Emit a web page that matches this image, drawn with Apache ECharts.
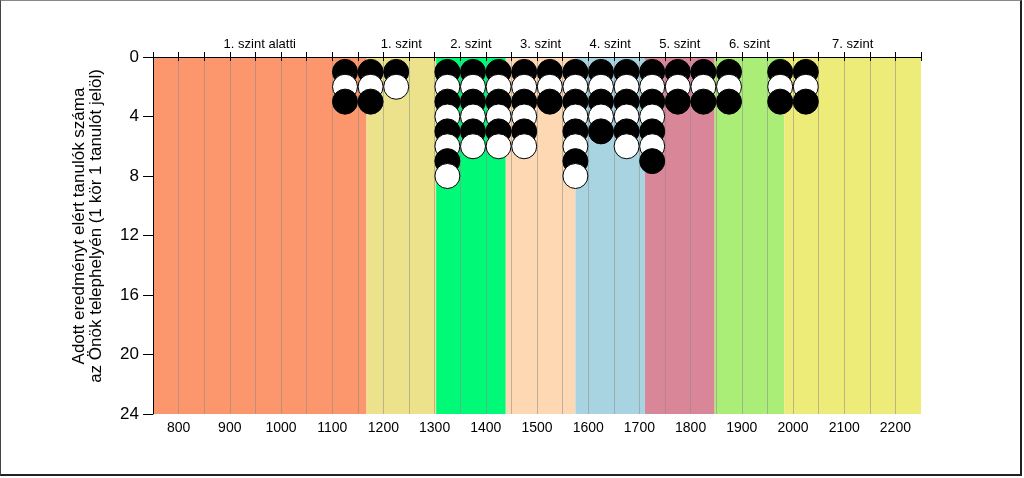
<!DOCTYPE html>
<html>
<head>
<meta charset="utf-8">
<script src="https://cdn.jsdelivr.net/npm/echarts@6/dist/echarts.min.js"></script>
<style>
  html, body { margin: 0; padding: 0; background: #fff; }
  #chart { position: absolute; left: 0; top: 0; width: 1024px; height: 478px; }
  #frame { position: absolute; left: 0; top: 0; width: 1019px; height: 473px;
           border-left: 1px solid #444; border-top: 1px solid #888;
           border-right: 2px solid #222; border-bottom: 2px solid #222; pointer-events: none; }
</style>
</head>
<body>
<div id="chart"></div>
<div id="frame"></div>
<script>
// ---- data ----
const scoreMin = 750;
const scoreMax = 2250;
const scoreStep = 50;
const countMax = 24;
const countStep = 4;

const levelBounds = [750, 1167, 1303, 1439, 1575, 1711, 1847, 1983, 2250];
const levelNames = ['1. szint alatti', '1. szint', '2. szint', '3. szint', '4. szint', '5. szint', '6. szint', '7. szint'];
const levelColors = ['#FC966C', '#ECE28C', '#00FA78', '#FED8B2', '#A8D4E2', '#D88698', '#AAEE78', '#EEEC78'];

const columnScores = [1125, 1175, 1225, 1325, 1375, 1425, 1475, 1525, 1575, 1625, 1675, 1725, 1775, 1825, 1875, 1975, 2025];
const columnCounts = [3, 3, 2, 8, 6, 6, 6, 3, 8, 5, 6, 7, 3, 3, 3, 3, 3];

const yTitle = 'Adott eredményt elért tanulók száma\naz Önök telephelyén (1 kör 1 tanulót jelöl)';

// ---- build ----
const bandData = levelNames.map((n, i) => [levelBounds[i], levelBounds[i + 1], i]);

const circles = [];
columnScores.forEach((s, i) => {
  for (let k = 1; k <= columnCounts[i]; k++) {
    circles.push({
      value: [s, k],
      itemStyle: { color: (k % 2 === 1) ? '#000000' : '#ffffff' }
    });
  }
});

const chart = echarts.init(document.getElementById('chart'), null, { renderer: 'canvas' });

const axisCommon = {
  type: 'value', min: scoreMin, max: scoreMax, interval: scoreStep, z: 2
};
const FONT = 'Liberation Sans, Arial, sans-serif';

chart.setOption({
  animation: false,
  backgroundColor: '#ffffff',
  grid: { left: 153, right: 103, top: 57, bottom: 64 },
  graphic: [{
    type: 'text',
    x: 88,
    y: 226,
    rotation: Math.PI / 2,
    style: {
      text: yTitle, fill: '#000',
      font: '17px "Liberation Sans", Arial, sans-serif',
      lineHeight: 17, align: 'center', verticalAlign: 'middle'
    }
  }],
  xAxis: [
    Object.assign({}, axisCommon, {
      position: 'bottom',
      axisLine: { show: true, lineStyle: { color: '#000', width: 1 } },
      axisTick: { show: true, length: 4, lineStyle: { color: '#000' } },
      axisLabel: {
        color: '#000', fontSize: 14, fontFamily: FONT, margin: 7,
        formatter: v => (v % 100 === 0 ? String(v) : '')
      },
      splitLine: { show: true, showMinLine: false, showMaxLine: false,
                   lineStyle: { color: 'rgba(140,140,140,0.55)', width: 1 } }
    }),
    Object.assign({}, axisCommon, {
      position: 'top',
      axisLine: { show: true, lineStyle: { color: '#000', width: 1 } },
      axisTick: { show: true, length: 5, lineStyle: { color: '#000' } },
      axisLabel: { show: false },
      splitLine: { show: false }
    })
  ],
  yAxis: {
    type: 'value', min: 0, max: countMax, interval: countStep, inverse: true, z: 2,
    axisLine: { show: true, lineStyle: { color: '#000', width: 1 } },
    axisTick: { show: true, length: 10, lineStyle: { color: '#000' } },
    axisLabel: { color: '#000', fontSize: 17, fontFamily: FONT, margin: 14 },
    splitLine: { show: false }
  },
  series: [
    {
      type: 'custom',
      z: 1,
      clip: false,
      silent: true,
      data: bandData,
      encode: { x: [0, 1] },
      renderItem: function (params, api) {
        const x0 = api.value(0), x1 = api.value(1), idx = api.value(2);
        const p0 = api.coord([x0, 0]);
        const p1 = api.coord([x1, countMax]);
        return {
          type: 'group',
          children: [
            {
              type: 'rect',
              shape: { x: p0[0], y: p0[1], width: p1[0] - p0[0], height: p1[1] - p0[1] },
              style: { fill: levelColors[idx] }
            },
            {
              type: 'text',
              style: {
                text: levelNames[idx], x: (p0[0] + p1[0]) / 2, y: p0[1] - 6,
                align: 'center', verticalAlign: 'bottom',
                fill: '#000', font: '13px "Liberation Sans", Arial, sans-serif'
              }
            }
          ]
        };
      }
    },
    {
      type: 'scatter',
      z: 3,
      symbol: 'circle',
      symbolSize: 25,
      itemStyle: { borderColor: '#000', borderWidth: 1, opacity: 1 },
      emphasis: { disabled: true },
      data: circles
    }
  ]
});
</script>
</body>
</html>
